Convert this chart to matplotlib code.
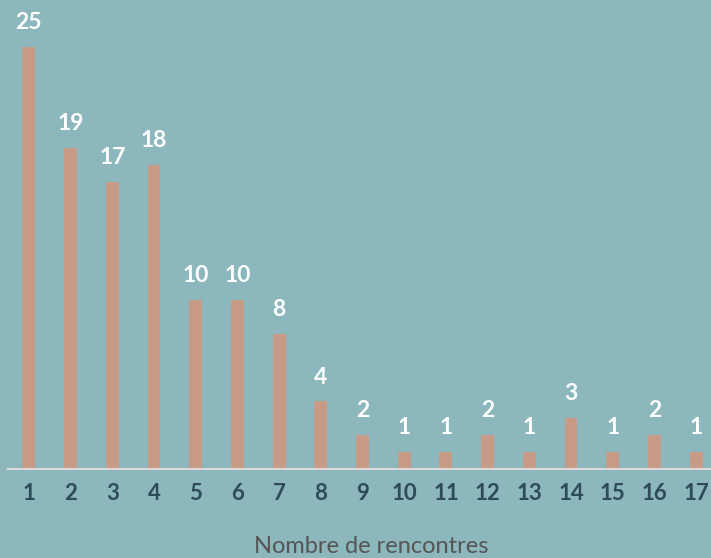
import matplotlib
matplotlib.use("Agg")
import matplotlib.pyplot as plt

# données
categories = [str(i) for i in range(1, 18)]
values = [25, 19, 17, 18, 10, 10, 8, 4, 2, 1, 1, 2, 1, 3, 1, 2, 1]

bg = "#8BB7BD"
bar_color = "#C89A88"

plt.rcParams['font.family'] = ['Lato', 'DejaVu Sans']

fig = plt.figure(figsize=(7.11, 5.58), dpi=100)
fig.patch.set_facecolor(bg)
ax = fig.add_axes([8 / 711, 89 / 558, 709 / 711, 422 / 558])
ax.set_facecolor(bg)

x = list(range(1, len(values) + 1))
bars = ax.bar(x, values, width=0.31, color=bar_color, zorder=2)

# étiquettes de valeur
for xi, v in zip(x, values):
    ax.annotate(str(v), (xi, v), xytext=(0, 10), textcoords="offset points",
                ha="center", va="bottom", color="white", fontsize=16.5,
                fontweight="bold", annotation_clip=False)

ax.set_xlim(0.5, 17.5)
ax.set_ylim(0, 25)
ax.set_xticks(x)
ax.set_xticklabels(categories, fontsize=16, fontweight="bold", color="#2F4A5A")
ax.tick_params(axis="x", length=0, pad=10)
ax.set_yticks([])
for s in ["top", "right", "left"]:
    ax.spines[s].set_visible(False)
ax.spines["bottom"].set_color("#D9D9D9")
ax.spines["bottom"].set_linewidth(1.5)

ax.set_xlabel("Nombre de rencontres", fontsize=17, color="#555555")
ax.xaxis.set_label_coords(363 / 709, -67 / 422)

fig.savefig("out.png", dpi=100, facecolor=bg)
